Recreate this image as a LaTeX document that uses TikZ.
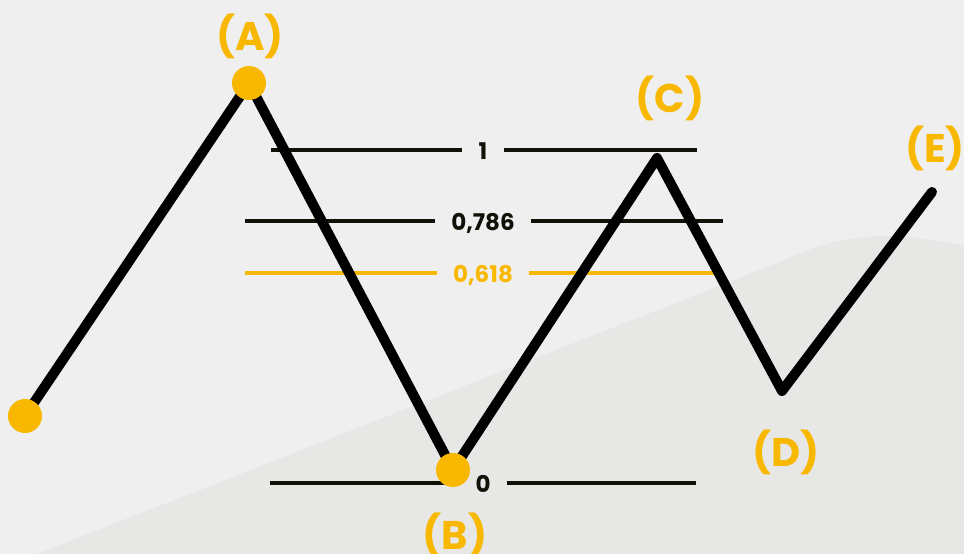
\documentclass[tikz,border=0pt]{standalone}
\usepackage{fontspec}
\setmainfont{Poppins}
\usepackage{tikz}
\usetikzlibrary{positioning}
\usepackage{xcolor}
\definecolor{wavegold}{HTML}{F9B800}
\definecolor{waveink}{HTML}{111108}
\definecolor{bgpale}{HTML}{EFEFEF}
\definecolor{bgshade}{HTML}{E7E7E5}

\begin{document}
\begin{tikzpicture}[x=1pt,y=-1pt,
    pivot/.style={circle,fill=wavegold,inner sep=0pt,minimum size=34pt},
    tag/.style={text=wavegold,inner sep=0pt,font=\fontsize{40}{44}\selectfont\bfseries},
    level/.style={inner xsep=16pt,inner ysep=0pt,text height=16pt,text depth=0pt,
        font=\fontsize{23}{26}\selectfont\bfseries},
    ruler/.style={line width=4pt},
    wave/.style={line width=10pt,black,line join=round,line cap=round}]
    % Background
    \useasboundingbox (0,0) rectangle (964,554);
    \fill[bgpale] (0,0) rectangle (964,554);
    \fill[bgshade] (37,554) -- (780,262) .. controls (850,228) and (900,233) .. (964,246)
        -- (964,554) -- cycle;

    % Retracement levels
    \foreach \lab/\y/\xl/\xr/\col [count=\i] in
        {1/150/271/697/waveink, {0,786}/221/245/723/waveink,
         {0,618}/273/245/715/wavegold, 0/483/270/696/waveink} {
        \node[level,text=\col] (lv\i) at (483,\y+1.5) {\lab};
        \coordinate (lvl\i) at (\xl,\y);
        \coordinate (lvr\i) at (\xr,\y);
        \draw[ruler,\col] (lvl\i) -- (lvl\i -| lv\i.west);
        \draw[ruler,\col] (lvr\i -| lv\i.east) -- (lvr\i);
    }

    % Wave
    \coordinate (s) at (25,416);
    \coordinate (pA) at (249,83);
    \coordinate (pB) at (453,470);
    \coordinate (pC) at (657,158);
    \coordinate (pD) at (782,391);
    \coordinate (pE) at (932,192);
    \draw[wave] (s) -- (pA) -- (pB) -- (pC) -- (pD) -- (pE);

    % Pivots
    \node[pivot] (dS) at (s) {};
    \node[pivot] (dA) at (pA) {};
    \node[pivot] (dB) at (pB) {};

    % Labels
    \node[tag] (tA) at (250,36) {(A)};
    \node[tag] (tB) at (455,535) {(B)};
    \node[tag] (tC) at (670,98) {(C)};
    \node[tag] (tD) at (786,452) {(D)};
    \node[tag] (tE) at (935,148) {(E)};
\end{tikzpicture}
\end{document}
